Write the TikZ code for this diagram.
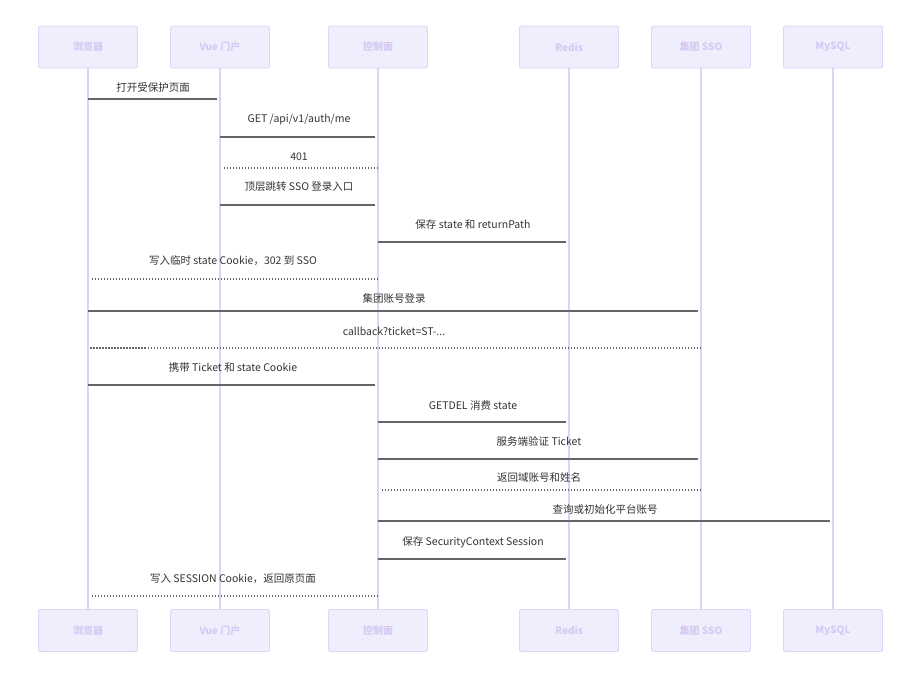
\documentclass[tikz,border=0pt]{standalone}
\usepackage{fontspec}
\setmainfont{Noto Sans CJK SC}
\definecolor{pfill}{HTML}{EEEEFD}
\definecolor{pdraw}{HTML}{DED6F6}
\definecolor{ptext}{HTML}{D6C9F2}
\definecolor{life}{HTML}{DCD4F6}
\definecolor{msgc}{HTML}{666666}
\definecolor{txt}{HTML}{333333}
\begin{document}
\begin{tikzpicture}[x=1pt,y=-1pt,
  part/.style={draw=pdraw,fill=pfill,rounded corners=2pt,line width=0.9pt,minimum width=99pt,minimum height=42pt,inner sep=0pt,text=ptext,font=\fontsize{10}{12}\selectfont\bfseries},
  lifeln/.style={draw=life,line width=1.3pt},
  msg/.style={draw=msgc,line width=1.2pt},
  ret/.style={draw=msgc,line width=1.1pt,dash pattern=on 1.5pt off 1.5pt},
  lbl/.style={text=txt,font=\fontsize{10.5}{12}\selectfont,inner sep=0pt}]
\useasboundingbox[fill=white] (0,0) rectangle (921,675);
\foreach \n/\x/\t in {p1/88/浏览器,p2/220/Vue 门户,p3/378/控制面,p4/569/Redis,p5/701/集团 SSO,p6/833/MySQL}{
  \node[part] (\n t) at (\x,47) {\t};
  \node[part] (\n b) at (\x,630.5) {\t};
  \draw[lifeln] (\n t.south) -- (\n b.north);
}
% messages
\draw[msg] (p1t |- 0,99) -- ([xshift=-3pt]p2t |- 0,99);
\node[lbl] (m1) at (153,88) {打开受保护页面};
\draw[msg] (p2t |- 0,137) -- ([xshift=-3pt]p3t |- 0,137);
\node[lbl] (m2) at (299,120) {GET /api/v1/auth/me};
\draw[ret] (p3t |- 0,168) -- ([xshift=2pt]p2t |- 0,168);
\node[lbl] (m3) at (299,157) {401};
\draw[msg] (p2t |- 0,205) -- ([xshift=-3pt]p3t |- 0,205);
\node[lbl] (m4) at (299,187) {顶层跳转 SSO 登录入口};
\draw[msg] (p3t |- 0,242) -- ([xshift=-3pt]p4t |- 0,242);
\node[lbl] (m5) at (473,225) {保存 state 和 returnPath};
\draw[ret] (p3t |- 0,279) -- ([xshift=2pt]p1t |- 0,279);
\node[lbl] (m6) at (233,261) {写入临时 state Cookie，302 到 SSO};
\draw[msg] (p1t |- 0,311) -- ([xshift=-3pt]p5t |- 0,311);
\node[lbl] (m7) at (394,299) {集团账号登录};
\draw[ret] (p5t |- 0,348) -- ([xshift=2pt]p1t |- 0,348);
\node[lbl] (m8) at (394,331) {callback?ticket=ST-...};
\draw[msg] (p1t |- 0,385) -- ([xshift=-3pt]p3t |- 0,385);
\node[lbl] (m9) at (233,368) {携带 Ticket 和 state Cookie};
\draw[msg] (p3t |- 0,422) -- ([xshift=-3pt]p4t |- 0,422);
\node[lbl] (m10) at (473,405) {GETDEL 消费 state};
\draw[msg] (p3t |- 0,459) -- ([xshift=-3pt]p5t |- 0,459);
\node[lbl] (m11) at (539,441) {服务端验证 Ticket};
\draw[ret] (p5t |- 0,490) -- ([xshift=2pt]p3t |- 0,490);
\node[lbl] (m12) at (539,478) {返回域账号和姓名};
\draw[msg] (p3t |- 0,521) -- ([xshift=-3pt]p6t |- 0,521);
\node[lbl] (m13) at (605,510) {查询或初始化平台账号};
\draw[msg] (p3t |- 0,559) -- ([xshift=-3pt]p4t |- 0,559);
\node[lbl] (m14) at (473,542) {保存 SecurityContext Session};
\draw[ret] (p3t |- 0,596) -- ([xshift=2pt]p1t |- 0,596);
\node[lbl] (m15) at (233,579) {写入 SESSION Cookie，返回原页面};
\end{tikzpicture}
\end{document}
